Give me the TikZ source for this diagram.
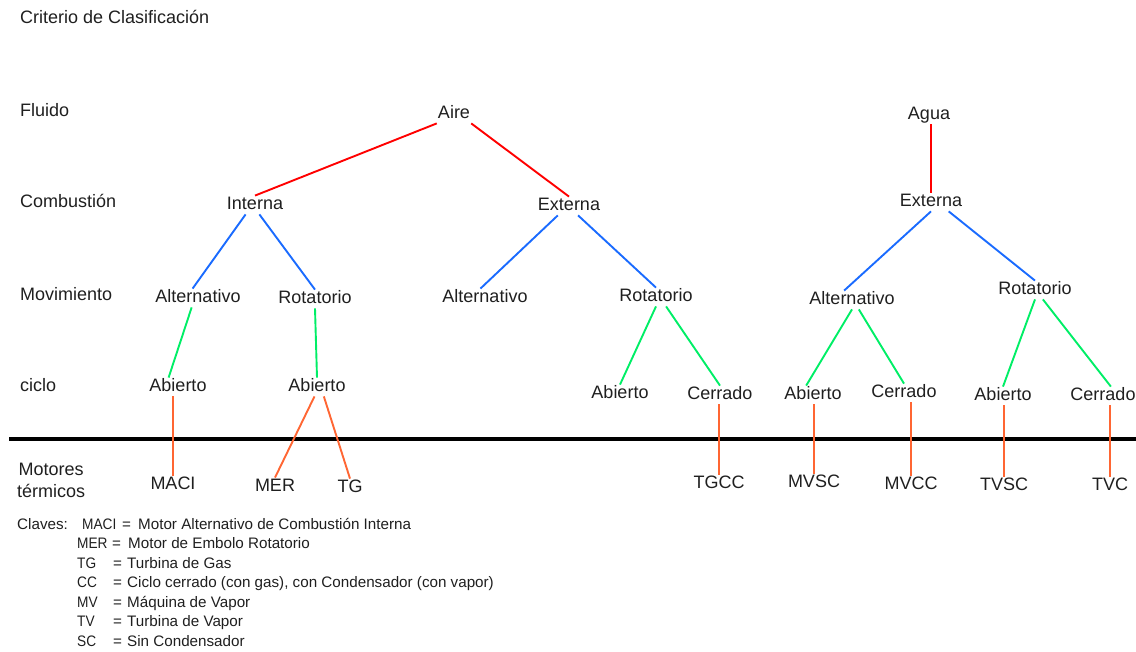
\documentclass[tikz,border=0pt]{standalone}
\usepackage{fontspec}
\setmainfont{Liberation Sans}
\definecolor{rojo}{HTML}{FF0000}
\definecolor{azul}{HTML}{1A6BFF}
\definecolor{verde}{HTML}{00EE66}
\definecolor{naranja}{HTML}{FF6633}
\begin{document}
\begin{tikzpicture}[x=1pt,y=-1pt,
  lbl/.style={inner sep=1pt, font=\fontsize{18}{21}\selectfont,
    text height=12.8pt, text depth=3.6pt, text=black!88},
  hdr/.style={lbl, anchor=west},
  key/.style={inner sep=0pt, anchor=west, font=\fontsize{15.2}{18}\selectfont,
    text height=11pt, text depth=3pt, text=black!88},
  abbr/.style={key, font=\fontsize{15.2}{18}\selectfont\addfontfeature{FakeStretch=0.9}},
  edge/.style={line width=1.9pt},
  redl/.style={edge, draw=rojo},
  bluel/.style={edge, draw=azul},
  greenl/.style={edge, draw=verde},
  orangel/.style={edge, draw=naranja}]
\useasboundingbox (0,0) rectangle (1136,652);

% criteria column
\node[hdr] (crit) at (19,19) {Criterio de Clasificación};
\node[hdr] (hfl)  at (19,112) {Fluido};
\node[hdr] (hco)  at (19,203) {Combustión};
\node[hdr] (hmo)  at (19,296) {Movimiento};
\node[hdr] (hci)  at (19,387) {ciclo};
\node[anchor=west, inner sep=1pt, align=center, text=black!88,
      font=\fontsize{18}{22}\selectfont] (hmt) at (16,480) {Motores\\térmicos};

% dividing rule
\coordinate (ruleL) at (9,439);
\coordinate (ruleR) at (1136,439);
\draw[line width=4pt] (ruleL) -- (ruleR);

% fluid
\node[lbl] (aire) at (454,114) {Aire};
\node[lbl] (agua) at (929,115) {Agua};
% combustion
\node[lbl] (interna) at (255,205) {Interna};
\node[lbl] (extA) at (569,206) {Externa};
\node[lbl] (extB) at (931,202) {Externa};
% motion
\node[lbl] (altA) at (198,298) {Alternativo};
\node[lbl] (rotA) at (315,299) {Rotatorio};
\node[lbl] (altB) at (485,298) {Alternativo};
\node[lbl] (rotB) at (656,297) {Rotatorio};
\node[lbl] (altC) at (852,300) {Alternativo};
\node[lbl] (rotC) at (1035,290) {Rotatorio};
% cycle
\node[lbl] (abA) at (178,387) {Abierto};
\node[lbl] (abB) at (317,387) {Abierto};
\node[lbl] (abC) at (620,394) {Abierto};
\node[lbl] (ceC) at (720,395) {Cerrado};
\node[lbl] (abD) at (813,395) {Abierto};
\node[lbl] (ceD) at (904,393) {Cerrado};
\node[lbl] (abE) at (1003,396) {Abierto};
\node[lbl] (ceE) at (1103,396) {Cerrado};
% engines
\node[lbl] (maci) at (173,485) {MACI};
\node[lbl] (mer)  at (275,487) {MER};
\node[lbl] (tg)   at (350,488) {TG};
\node[lbl] (tgcc) at (719,484) {TGCC};
\node[lbl] (mvsc) at (814,483) {MVSC};
\node[lbl] (mvcc) at (911,485) {MVCC};
\node[lbl] (tvsc) at (1004,486) {TVSC};
\node[lbl] (tvc)  at (1110,486) {TVC};

% fluid -> combustion
\draw[redl] (aire.south west) -- (interna.north);
\draw[redl] (aire.south east) -- (extA.north);
\draw[redl] (extB.north |- agua.south) -- (extB.north);

% combustion -> motion
\draw[bluel] (interna.225) -- (altA.120);
\draw[bluel] (interna.295) -- (rotA.north);
\draw[bluel] (extA.220) -- (altB.116);
\draw[bluel] (extA.314) -- (rotB.north);
\draw[bluel] (extB.south) -- (altC.130);
\draw[bluel] (extB.332) -- (rotC.north);

% motion -> cycle
\draw[greenl] (altA.236) -- (abA.135);
\draw[greenl] (rotA.south) -- (abB.north);
\draw[greenl] (rotB.south) -- (abC.north);
\draw[greenl] (rotB.317) -- (ceC.north);
\draw[greenl] (altC.south) -- (abD.126);
\draw[greenl] (altC.306) -- (ceD.north);
\draw[greenl] (rotC.south) -- (abE.north);
\draw[greenl] (rotC.310) -- (ceE.50);

% cycle -> engines
\draw[orangel] (maci.north |- abA.south) -- (maci.north);
\draw[orangel] (abB.255) -- (mer.north);
\draw[orangel] (abB.306) -- (tg.north);
\draw[orangel] (tgcc.north |- ceC.south) -- (tgcc.north);
\draw[orangel] (mvsc.north |- abD.south) -- (mvsc.north);
\draw[orangel] (mvcc.north |- ceD.south) -- (mvcc.north);
\draw[orangel] (tvsc.north |- abE.south) -- (tvsc.north);
\draw[orangel] (tvc.north |- ceE.south) -- (tvc.north);

% abbreviations
\node[key]  (kc)  at (17,525) {Claves:};
\node[abbr] (k1a) at (82,525) {MACI};
\node[key]  (k1e) at (122,525) {=};
\node[key]  (k1d) at (138,525) {Motor Alternativo de Combustión Interna};
\node[abbr] (k2a) at (77,544.5) {MER};
\node[key]  (k2e) at (112,544.5) {=};
\node[key]  (k2d) at (128,544.5) {Motor de Embolo Rotatorio};
\node[abbr] (k3a) at (77,564) {TG};
\node[key]  (k3e) at (113,564) {=};
\node[key]  (k3d) at (127,564) {Turbina de Gas};
\node[abbr] (k4a) at (77,583.5) {CC};
\node[key]  (k4e) at (113,583.5) {=};
\node[key]  (k4d) at (127,583.5) {Ciclo cerrado (con gas), con Condensador (con vapor)};
\node[abbr] (k5a) at (77,603) {MV};
\node[key]  (k5e) at (113,603) {=};
\node[key]  (k5d) at (127,603) {Máquina de Vapor};
\node[abbr] (k6a) at (77,622.5) {TV};
\node[key]  (k6e) at (113,622.5) {=};
\node[key]  (k6d) at (127,622.5) {Turbina de Vapor};
\node[abbr] (k7a) at (77,642) {SC};
\node[key]  (k7e) at (113,642) {=};
\node[key]  (k7d) at (127,642) {Sin Condensador};
\end{tikzpicture}
\end{document}
